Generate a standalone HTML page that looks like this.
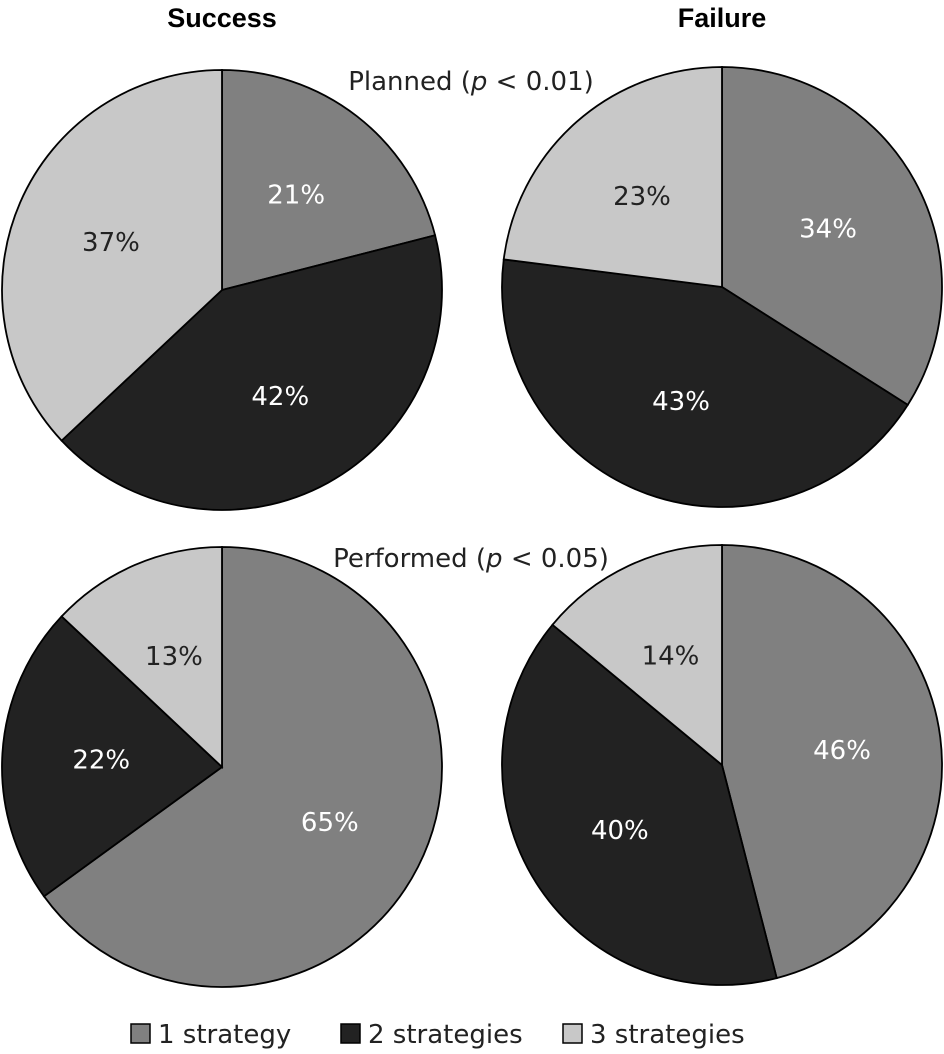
<!DOCTYPE html>
<html><head><meta charset="utf-8"><style>
html,body{margin:0;padding:0;background:#fff;}
svg{display:block;font-family:"DejaVu Sans","Liberation Sans",sans-serif;}
.t{font-family:"Liberation Sans",sans-serif;font-weight:bold;}
</style></head><body>
<svg id="chart" width="944" height="1054" viewBox="0 0 944 1054">
<text class="t" x="222" y="27" font-size="27" text-anchor="middle">Success</text>
<text class="t" x="722" y="27" font-size="27" text-anchor="middle">Failure</text>
<text x="471" y="90" font-size="26" text-anchor="middle" fill="#222">Planned (<tspan font-style="italic">p</tspan> &lt; 0.01)</text>
<text x="471" y="567" font-size="26" text-anchor="middle" fill="#222">Performed (<tspan font-style="italic">p</tspan> &lt; 0.05)</text>
<g id="pies"></g>
<g>
<rect x="131" y="1024" width="19" height="19" fill="#808080" stroke="#000" stroke-width="1.5"/>
<text x="158" y="1043" font-size="26" fill="#222">1 strategy</text>
<rect x="341" y="1024" width="19" height="19" fill="#222" stroke="#000" stroke-width="1.5"/>
<text x="368" y="1043" font-size="26" fill="#222">2 strategies</text>
<rect x="563" y="1024" width="19" height="19" fill="#c8c8c8" stroke="#000" stroke-width="1.5"/>
<text x="590" y="1043" font-size="26" fill="#222">3 strategies</text>
</g>
</svg>
<script>
const categories = ["1 strategy","2 strategies","3 strategies"];
const successPlanned = [21,42,37];
const failurePlanned = [34,43,23];
const successPerformed = [65,22,13];
const failurePerformed = [46,40,14];
const colors = ["#808080","#222222","#c8c8c8"];
const textColors = ["#fff","#fff","#222"];
const pies = [
  {name:"success-planned", vals:successPlanned, cx:222, cy:290},
  {name:"failure-planned", vals:failurePlanned, cx:722, cy:287},
  {name:"success-performed", vals:successPerformed, cx:222, cy:767},
  {name:"failure-performed", vals:failurePerformed, cx:722, cy:765}
];
const R = 220;
const NS = "http://www.w3.org/2000/svg";
const root = document.getElementById("pies");
function pt(cx,cy,r,a){return [cx+r*Math.sin(a), cy-r*Math.cos(a)];}
pies.forEach(p=>{
  const g=document.createElementNS(NS,"g");
  
  
  root.appendChild(g);
  const total=p.vals.reduce((a,b)=>a+b,0);
  let a0=0;
  p.vals.forEach((v,i)=>{
    const a1=a0+v/total*2*Math.PI;
    const s=pt(p.cx,p.cy,R,a0), e=pt(p.cx,p.cy,R,a1);
    const large=(a1-a0)>Math.PI?1:0;
    const path=document.createElementNS(NS,"path");
    path.setAttribute("d",`M${p.cx},${p.cy} L${s[0]},${s[1]} A${R},${R} 0 ${large} 1 ${e[0]},${e[1]} Z`);
    path.setAttribute("fill",colors[i]);
    path.setAttribute("stroke","#000");
    path.setAttribute("stroke-width","1.8");
    
    
    g.appendChild(path);
    const m=(a0+a1)/2;
    const lp=pt(p.cx,p.cy,R*0.55,m);
    const t=document.createElementNS(NS,"text");
    t.setAttribute("x",lp[0]);t.setAttribute("y",lp[1]+9);
    t.setAttribute("text-anchor","middle");t.setAttribute("font-size","26");
    t.setAttribute("fill",textColors[i]);
    t.textContent=v+"%";
    
    
    g.appendChild(t);
    a0=a1;
  });
});
</script>
</body></html>
